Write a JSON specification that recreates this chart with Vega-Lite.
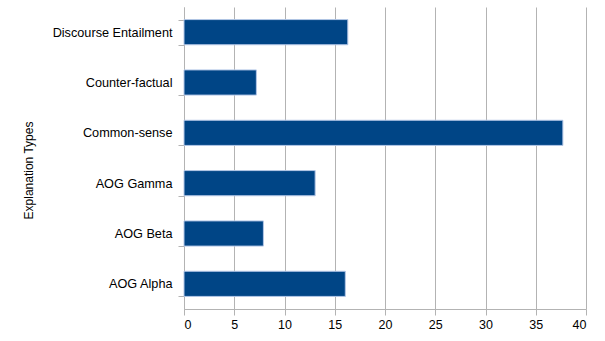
{
  "$schema": "https://vega.github.io/schema/vega-lite/v6.json",
  "width": 402,
  "height": 302,
  "autosize": {"type": "none"},
  "padding": {"left": 184, "top": 7, "right": 19, "bottom": 32},
  "background": "white",
  "config": {
    "view": {"stroke": null},
    "font": "Liberation Sans"
  },
  "data": {
    "values": [
      {"type": "Discourse Entailment", "value": 16.3},
      {"type": "Counter-factual", "value": 7.2},
      {"type": "Common-sense", "value": 37.7},
      {"type": "AOG Gamma", "value": 13.05},
      {"type": "AOG Beta", "value": 7.9},
      {"type": "AOG Alpha", "value": 16.05}
    ]
  },
  "mark": {"type": "bar", "color": "#004586", "stroke": "#b4c7e7", "strokeWidth": 1},
  "encoding": {
    "y": {
      "field": "type",
      "type": "nominal",
      "sort": null,
      "scale": {"paddingInner": 0.5, "paddingOuter": 0.25},
      "axis": {
        "title": "Explanation Types",
        "titleFont": "Liberation Sans",
        "titleFontSize": 12,
        "titleFontWeight": "normal",
        "titleColor": "#000000",
        "titleX": -156,
        "titleY": 163,
        "titleAngle": -90,
        "titleAlign": "center",
        "titleBaseline": "middle",
        "labelFont": "Liberation Sans",
        "labelFontSize": 12.7,
        "labelColor": "#000000",
        "labelPadding": 6,
        "tickBand": "extent",
        "tickSize": 6,
        "tickColor": "#b3b3b3",
        "domainColor": "#b3b3b3",
        "grid": false
      }
    },
    "x": {
      "field": "value",
      "type": "quantitative",
      "scale": {"domain": [0, 40], "nice": false},
      "axis": {
        "title": null,
        "values": [0, 5, 10, 15, 20, 25, 30, 35, 40],
        "labelFont": "Liberation Sans",
        "labelFontSize": 12.5,
        "labelColor": "#000000",
        "labelPadding": 3,
        "tickSize": 6,
        "tickColor": "#b3b3b3",
        "domainColor": "#b3b3b3",
        "grid": true,
        "gridColor": "#b3b3b3",
        "gridOpacity": 1
      }
    }
  }
}
